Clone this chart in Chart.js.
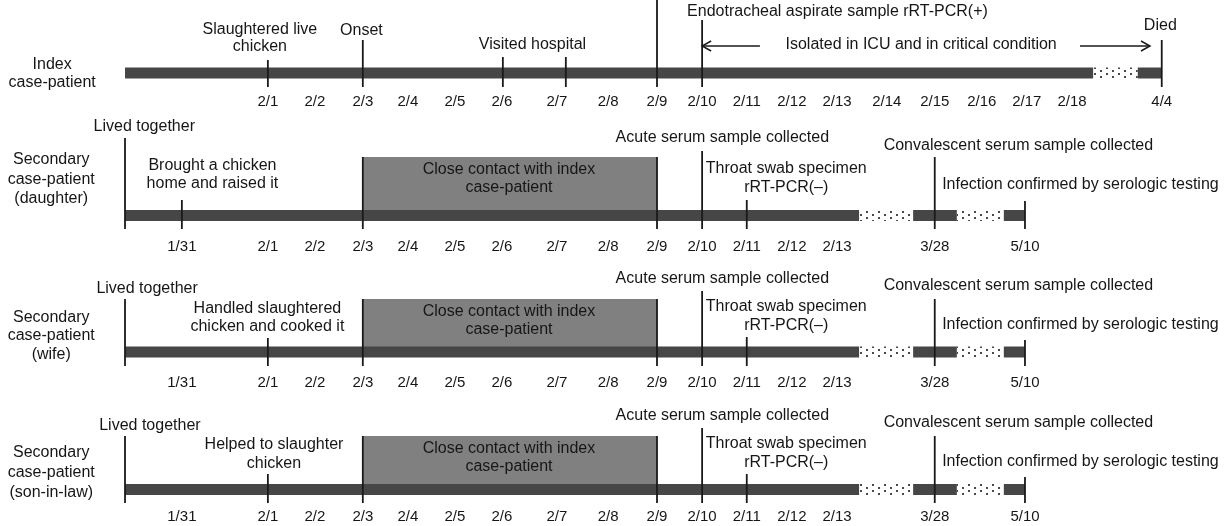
<!DOCTYPE html>
<html>
<head>
<meta charset="utf-8">
<script src="https://cdn.jsdelivr.net/npm/chart.js@4.4.0/dist/chart.umd.min.js"></script>
<style>
  html, body { margin: 0; padding: 0; background: #fff; }
</style>
</head>
<body>
<canvas id="timeline" width="1228" height="526"></canvas>
<script>
// Positions are schematic day slots along the timeline (not to scale)
const indexTicks = ['2/1', '2/2', '2/3', '2/4', '2/5', '2/6', '2/7', '2/8', '2/9', '2/10',
    '2/11', '2/12', '2/13', '2/14', '2/15', '2/16', '2/17', '2/18', '4/4'];
const indexTickPos = [3.04, 4.04, 5.06, 6.02, 7.02, 8.02, 9.19, 10.28, 11.32, 12.28,
    13.23, 14.19, 15.15, 16.21, 17.23, 18.23, 19.19, 20.15, 22.06];

const contactTicks = ['1/31', '2/1', '2/2', '2/3', '2/4', '2/5', '2/6', '2/7', '2/8', '2/9',
    '2/10', '2/11', '2/12', '2/13', '3/28', '5/10'];
const contactTickPos = [1.21, 3.04, 4.04, 5.06, 6.02, 7.02, 8.02, 9.19, 10.28, 11.32,
    12.28, 13.23, 14.19, 15.15, 17.23, 19.15];

// bar pieces [start, end]: solid = observed, gap = broken time axis
const indexSolid = [[0, 20.6], [21.55, 22.06]];
const indexGap = [[20.6, 21.55]];
const contactSolid = [[0, 15.62], [16.77, 17.7], [18.7, 19.15]];
const contactGap = [[15.62, 16.77], [17.7, 18.7]];

// close contact with index case-patient, 2/3 - 2/9
const contactPeriod = [5.06, 11.32];

// event marks on each bar
const indexMarks = [3.04, 5.06, 8.04, 9.38, 11.32, 12.28, 22.06];
const daughterMarks = [0, 1.21, 5.06, 11.32, 12.28, 13.23, 17.23, 19.15];
const wifeMarks = [0, 3.04, 5.06, 11.32, 12.28, 13.23, 17.23, 19.15];
const sonMarks = [0, 3.04, 5.06, 11.32, 12.28, 13.23, 17.23, 19.15];

// ICU arrows [from, to]
const icuArrows = [[13.51, 12.28], [20.32, 21.81]];

// ---- layout (vertical positions on a 0..526 scale, top = 0) ----
const rows = [
    {
        y: 73, labelY: 102, ticks: indexTicks, tickPos: indexTickPos,
        solid: indexSolid, gap: indexGap, box: null,
        marks: indexMarks, markTop: [60, 40, 57, 57, 0, 20, 40], markBottom: 87,
        notes: [
            ['Index', -1.55, 65], ['case-patient', -1.55, 83],
            ['Slaughtered live', 2.87, 30], ['chicken', 2.87, 47],
            ['Onset', 5.03, 31],
            ['Visited hospital', 8.67, 45],
            ['Endotracheal aspirate sample rRT-PCR(+)', 15.16, 12],
            ['Isolated in ICU and in critical condition', 16.94, 45],
            ['Died', 22.03, 26]
        ],
        arrows: icuArrows, arrowY: 46
    },
    {
        y: 215.5, labelY: 247, ticks: contactTicks, tickPos: contactTickPos,
        solid: contactSolid, gap: contactGap, box: 157,
        marks: daughterMarks, markTop: [138, 200, 157, 157, 151, 200, 157, 201], markBottom: 229,
        notes: [
            ['Secondary', -1.57, 160], ['case-patient', -1.57, 180], ['(daughter)', -1.57, 199],
            ['Lived together', 0.41, 127],
            ['Brought a chicken', 1.86, 166], ['home and raised it', 1.86, 184],
            ['Close contact with index', 8.17, 170], ['case-patient', 8.17, 188],
            ['Acute serum sample collected', 12.71, 138],
            ['Throat swab specimen', 14.07, 169], ['rRT-PCR(\u2013)', 14.07, 188],
            ['Convalescent serum sample collected', 19.01, 146],
            ['Infection confirmed by serologic testing', 20.33, 185]
        ]
    },
    {
        y: 352, labelY: 383, ticks: contactTicks, tickPos: contactTickPos,
        solid: contactSolid, gap: contactGap, box: 299,
        marks: wifeMarks, markTop: [299, 338, 299, 299, 291, 337, 299, 340], markBottom: 366,
        notes: [
            ['Secondary', -1.57, 318], ['case-patient', -1.57, 336], ['(wife)', -1.57, 355],
            ['Lived together', 0.47, 289],
            ['Handled slaughtered', 3.03, 309], ['chicken and cooked it', 3.03, 327],
            ['Close contact with index', 8.17, 312], ['case-patient', 8.17, 330],
            ['Acute serum sample collected', 12.71, 279],
            ['Throat swab specimen', 14.07, 307], ['rRT-PCR(\u2013)', 14.07, 326],
            ['Convalescent serum sample collected', 19.01, 286],
            ['Infection confirmed by serologic testing', 20.33, 325]
        ]
    },
    {
        y: 489.5, labelY: 517, ticks: contactTicks, tickPos: contactTickPos,
        solid: contactSolid, gap: contactGap, box: 436,
        marks: sonMarks, markTop: [436, 474, 436, 436, 428, 474, 436, 477], markBottom: 503,
        notes: [
            ['Secondary', -1.57, 453], ['case-patient', -1.57, 473], ['(son-in-law)', -1.57, 493],
            ['Lived together', 0.53, 426],
            ['Helped to slaughter', 3.17, 445], ['chicken', 3.17, 464],
            ['Close contact with index', 8.17, 449], ['case-patient', 8.17, 467],
            ['Acute serum sample collected', 12.71, 416],
            ['Throat swab specimen', 14.07, 444], ['rRT-PCR(\u2013)', 14.07, 463],
            ['Convalescent serum sample collected', 19.01, 423],
            ['Infection confirmed by serologic testing', 20.33, 462]
        ]
    }
];

const BAR_COLOR = '#464646';
const BOX_COLOR = '#808080';
const LINE_COLOR = '#1a1a1a';
const TEXT_COLOR = '#161616';
const FONT = '"Liberation Sans", Arial, sans-serif';

// dotted fill for broken parts of the time axis
function makeDots() {
    const c = document.createElement('canvas');
    c.width = 12;
    c.height = 6;
    const g = c.getContext('2d');
    g.fillStyle = '#fff';
    g.fillRect(0, 0, 12, 6);
    g.fillStyle = '#4a4a4a';
    g.fillRect(2, 1, 2, 2);
    g.fillRect(8, 4, 2, 2);
    return g.createPattern(c, 'repeat');
}
const dots = makeDots();

function segment(x0, x1, y, color, width, order) {
    return {
        data: [{ x: x0, y: y }, { x: x1, y: y }],
        borderColor: color,
        borderWidth: width,
        borderCapStyle: 'butt',
        pointRadius: 0,
        fill: false,
        order: order
    };
}

const datasets = [];
rows.forEach(row => {
    row.marks.forEach((m, i) => {
        datasets.push({
            data: [{ x: m, y: row.markTop[i] }, { x: m, y: row.markBottom }],
            borderColor: LINE_COLOR,
            borderWidth: 1.8,
            pointRadius: 0,
            fill: false,
            order: 0
        });
    });
    row.solid.forEach(s => datasets.push(segment(s[0], s[1], row.y, BAR_COLOR, 11, 1)));
    row.gap.forEach(s => datasets.push(segment(s[0], s[1], row.y, dots, 11, 1)));
    if (row.box !== null) {
        datasets.push({
            data: [{ x: contactPeriod[0], y: row.box }, { x: contactPeriod[1], y: row.box }],
            borderColor: 'transparent',
            borderWidth: 0,
            backgroundColor: BOX_COLOR,
            pointRadius: 0,
            fill: { value: row.y },
            order: 2
        });
    }
    if (row.arrows) {
        row.arrows.forEach(a => {
            const ds = segment(a[0], a[1], row.arrowY, LINE_COLOR, 1.5, 0);
            ds.arrowHead = true;
            datasets.push(ds);
        });
    }
});

const annotate = {
    id: 'annotate',
    afterDatasetsDraw(chart) {
        const ctx = chart.ctx;
        const xs = chart.scales.x;
        const ys = chart.scales.y;
        ctx.save();
        // arrow heads
        chart.data.datasets.forEach(ds => {
            if (!ds.arrowHead) return;
            const a = ds.data[0], b = ds.data[1];
            const x0 = xs.getPixelForValue(a.x), x1 = xs.getPixelForValue(b.x);
            const y = ys.getPixelForValue(b.y);
            const dir = Math.sign(x1 - x0);
            ctx.strokeStyle = LINE_COLOR;
            ctx.lineWidth = 1.5;
            ctx.beginPath();
            ctx.moveTo(x1 - dir * 9, y - 5);
            ctx.lineTo(x1, y);
            ctx.lineTo(x1 - dir * 9, y + 5);
            ctx.stroke();
        });
        ctx.fillStyle = TEXT_COLOR;
        ctx.textAlign = 'center';
        ctx.textBaseline = 'middle';
        rows.forEach(row => {
            ctx.font = '15px ' + FONT;
            row.ticks.forEach((t, i) => {
                ctx.fillText(t, xs.getPixelForValue(row.tickPos[i]), ys.getPixelForValue(row.labelY));
            });
            ctx.font = '16px ' + FONT;
            row.notes.forEach(n => {
                ctx.fillText(n[0], xs.getPixelForValue(n[1]), ys.getPixelForValue(n[2]));
            });
        });
        ctx.restore();
    }
};

new Chart(document.getElementById('timeline'), {
    type: 'line',
    data: { datasets: datasets },
    options: {
        responsive: false,
        animation: false,
        events: [],
        layout: { padding: 0 },
        plugins: {
            legend: { display: false },
            tooltip: { enabled: false }
        },
        scales: {
            x: { type: 'linear', min: -2.66, max: 23.47, display: false },
            y: { type: 'linear', min: 0, max: 526, reverse: true, display: false }
        }
    },
    plugins: [annotate]
});
</script>
</body>
</html>
